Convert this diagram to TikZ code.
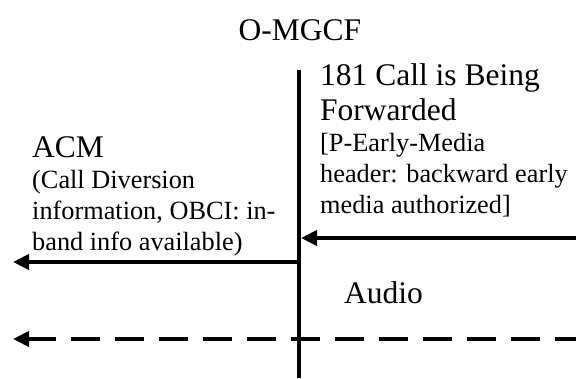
\documentclass[tikz,border=0pt]{standalone}
\usepackage{fontspec}
\setmainfont{Liberation Serif}
\usetikzlibrary{arrows.meta}
\tikzset{
  big/.style={inner sep=0pt, font=\fontsize{31.5}{35}\selectfont, align=left},
  small/.style={inner sep=0pt, font=\fontsize{26.3}{30.8}\selectfont, align=left},
  lifeline/.style={line width=3.6pt},
  msg/.style={line width=4.6pt, -{Triangle[length=16pt,width=15pt]}},
  media/.style={line width=4.6pt, dash pattern=on 29pt off 15pt, dash phase=8pt, -{Triangle[length=16pt,width=15pt]}}
}
\begin{document}
\begin{tikzpicture}[x=1pt,y=-1pt]
\useasboundingbox (0,0) rectangle (576,378);
\node[big, anchor=base] (title) at (300,40) {O-MGCF};
\coordinate (lltop) at (299,70);
\coordinate (llbot) at (299,378);
\draw[lifeline] (lltop) -- (llbot);
\node[big, anchor=base west] (m181) at (320,120) {181 Call is Being\\Forwarded};
\node[small, anchor=base west] (m181p) at (320,213) {[P-Early-Media\\header: backward early\\media authorized]};
\node[big, anchor=base west] (acm) at (32,157) {ACM};
\node[small, anchor=base west] (acmp) at (32,250) {(Call Diversion\\information, OBCI: in-\\band info available)};
\node[big, anchor=base west] (audio) at (344,303) {Audio};
\coordinate (r181) at (576,238);
\coordinate (l181) at (301,238);
\draw[msg] (r181) -- (l181);
\coordinate (racm) at (299,262);
\coordinate (lacm) at (13,262);
\draw[msg] (racm) -- (lacm);
\coordinate (raud) at (576,339);
\coordinate (laud) at (13,339);
\draw[media] (raud) -- (laud);
\end{tikzpicture}
\end{document}
